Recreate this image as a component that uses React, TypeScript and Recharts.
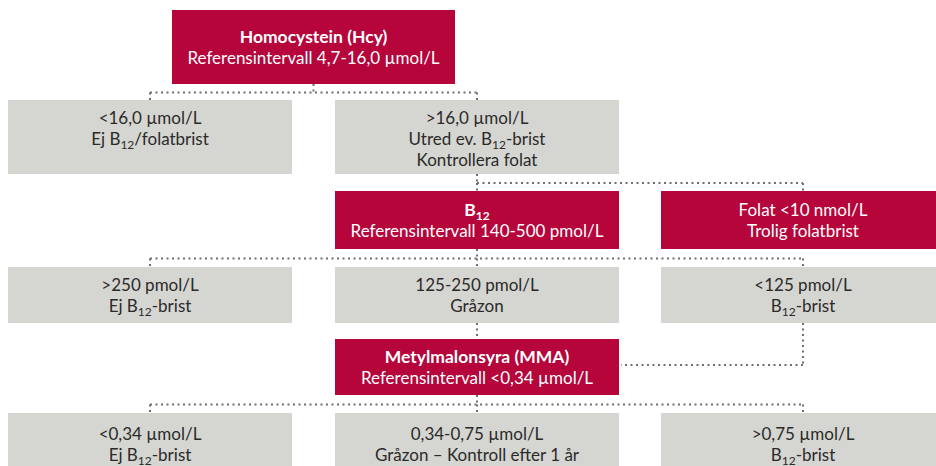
import { ScatterChart, Scatter, XAxis, YAxis, ReferenceLine } from "recharts";

// box texts per row; "_{12}" marks a subscript
const row0 = [{ col: "top", title: "Homocystein (Hcy)", lines: ["Referensintervall 4,7-16,0 µmol/L"] }];
const row1 = [
  { col: "left", title: "", lines: ["<16,0 µmol/L", "Ej B_{12}/folatbrist"] },
  { col: "middle", title: "", lines: [">16,0 µmol/L", "Utred ev. B_{12}-brist", "Kontrollera folat"] },
];
const row2 = [
  { col: "middle", title: "B_{12}", lines: ["Referensintervall 140-500 pmol/L"] },
  { col: "right", title: "", lines: ["Folat <10 nmol/L", "Trolig folatbrist"] },
];
const row3 = [
  { col: "left", title: "", lines: [">250 pmol/L", "Ej B_{12}-brist"] },
  { col: "middle", title: "", lines: ["125-250 pmol/L", "Gråzon"] },
  { col: "right", title: "", lines: ["<125 pmol/L", "B_{12}-brist"] },
];
const row4 = [{ col: "middle", title: "Metylmalonsyra (MMA)", lines: ["Referensintervall <0,34 µmol/L"] }];
const row5 = [
  { col: "left", title: "", lines: ["<0,34 µmol/L", "Ej B_{12}-brist"] },
  { col: "middle", title: "", lines: ["0,34-0,75 µmol/L", "Gråzon – Kontroll efter 1 år"] },
  { col: "right", title: "", lines: [">0,75 µmol/L", "B_{12}-brist"] },
];
const rowsData = [row0, row1, row2, row3, row4, row5];

// connections: [row, col] -> children
const links = [
  { from: [0, "top"], to: [[1, "left"], [1, "middle"]], side: false },
  { from: [1, "middle"], to: [[2, "middle"], [2, "right"]], side: false },
  { from: [2, "middle"], to: [[3, "left"], [3, "middle"], [3, "right"]], side: false },
  { from: [3, "middle"], to: [[4, "middle"]], side: false },
  { from: [3, "right"], to: [[4, "middle"]], side: true },
  { from: [4, "middle"], to: [[5, "left"], [5, "middle"], [5, "right"]], side: false },
];

const RED = "#b5053b";
const GRAY = "#d5d6d1";
const DOTS = "#6d6e70";
const FONT = "Lato, 'Open Sans', sans-serif";

const W = 936;
const H = 466;
const COL_LEFT: Record<string, number> = { left: 8, top: 172, middle: 335, right: 661 };
const COL_WIDTH: Record<string, number> = { left: 284, top: 283, middle: 284, right: 284 };
const ROWS = [
  { top: 10, h: 74, fill: RED, align: "center" },
  { top: 100, h: 74, fill: GRAY, align: "top" },
  { top: 191, h: 58, fill: RED, align: "center" },
  { top: 267, h: 56, fill: GRAY, align: "center" },
  { top: 339, h: 56, fill: RED, align: "center" },
  { top: 413, h: 62, fill: GRAY, align: "center" },
];
const LINE_H = 21;

const nodes = rowsData.flatMap((row, r) =>
  row.map((n) => ({
    ...n,
    row: r,
    x: COL_LEFT[n.col] + COL_WIDTH[n.col] / 2,
    y: ROWS[r].top + ROWS[r].h / 2,
  }))
);

const boxOf = (r: number, col: string) => ({
  cx: COL_LEFT[col] + COL_WIDTH[col] / 2,
  cy: ROWS[r].top + ROWS[r].h / 2,
  top: ROWS[r].top,
  bottom: ROWS[r].top + ROWS[r].h,
  right: COL_LEFT[col] + COL_WIDTH[col],
});

type Pt = { x: number; y: number };
const segments: [Pt, Pt][] = [];
links.forEach((l) => {
  const p = boxOf(l.from[0] as number, l.from[1] as string);
  const kids = l.to.map((t) => boxOf(t[0] as number, t[1] as string));
  if (l.side) {
    const k = kids[0];
    segments.push([{ x: p.cx, y: p.bottom }, { x: p.cx, y: k.cy - 2 }]);
    segments.push([{ x: p.cx, y: k.cy - 2 }, { x: k.right + 2, y: k.cy - 2 }]);
  } else if (kids.length === 1 && kids[0].cx === p.cx) {
    segments.push([{ x: p.cx, y: p.bottom }, { x: p.cx, y: kids[0].top }]);
  } else {
    const busY = (p.bottom + Math.min(...kids.map((k) => k.top))) / 2 + 0.5;
    const xs = [p.cx, ...kids.map((k) => k.cx)];
    segments.push([{ x: p.cx, y: p.bottom }, { x: p.cx, y: busY }]);
    segments.push([{ x: Math.min(...xs), y: busY }, { x: Math.max(...xs), y: busY }]);
    kids.forEach((k) => segments.push([{ x: k.cx, y: busY }, { x: k.cx, y: k.top }]));
  }
});

const renderLine = (text: string, key: number, x: number, y: number, bold: boolean, color: string) => {
  const parts = text.split(/_\{(\d+)\}/);
  return (
    <text key={key} x={x} y={y} textAnchor="middle" fontFamily={FONT} fontSize={bold ? 17.5 : 17} fontWeight={bold ? 700 : 400} fill={color}>
      {parts.map((p, i) =>
        i % 2 === 1 ? (
          <tspan key={i} fontSize={12} dy={4}>{p}</tspan>
        ) : (
          <tspan key={i} dy={i > 0 ? -4 : 0}>{p}</tspan>
        )
      )}
    </text>
  );
};

const NodeBox = (props: any) => {
  const { cx, cy, payload } = props;
  const row = ROWS[payload.row];
  const w = COL_WIDTH[payload.col];
  const all: { t: string; b: boolean }[] = [];
  if (payload.title) all.push({ t: payload.title, b: true });
  payload.lines.forEach((t: string) => all.push({ t, b: false }));
  const color = row.fill === RED ? "#ffffff" : "#2b2a29";
  const firstCenter = row.align === "top" ? cy - row.h / 2 + 18 : cy - ((all.length - 1) * LINE_H) / 2;
  return (
    <g>
      <rect x={cx - w / 2} y={cy - row.h / 2} width={w} height={row.h} fill={row.fill} />
      {all.map((l, i) => renderLine(l.t, i, cx, firstCenter + i * LINE_H + 6, l.b, color))}
    </g>
  );
};

export default function App() {
  return (
    <div style={{ width: W, height: H }}>
      <style>{"body{margin:0;background:#fff}"}</style>
      <ScatterChart width={W} height={H} margin={{ top: 0, right: 0, bottom: 0, left: 0 }}>
        <XAxis type="number" dataKey="x" domain={[0, W]} hide />
        <YAxis type="number" dataKey="y" domain={[0, H]} reversed hide />
        {segments.map((s, i) => (
          <ReferenceLine
            key={i}
            segment={s}
            stroke={DOTS}
            strokeWidth={2}
            strokeDasharray="2 3.5"
            ifOverflow="visible"
          />
        ))}
        <Scatter data={nodes} shape={NodeBox} isAnimationActive={false} />
      </ScatterChart>
    </div>
  );
}
